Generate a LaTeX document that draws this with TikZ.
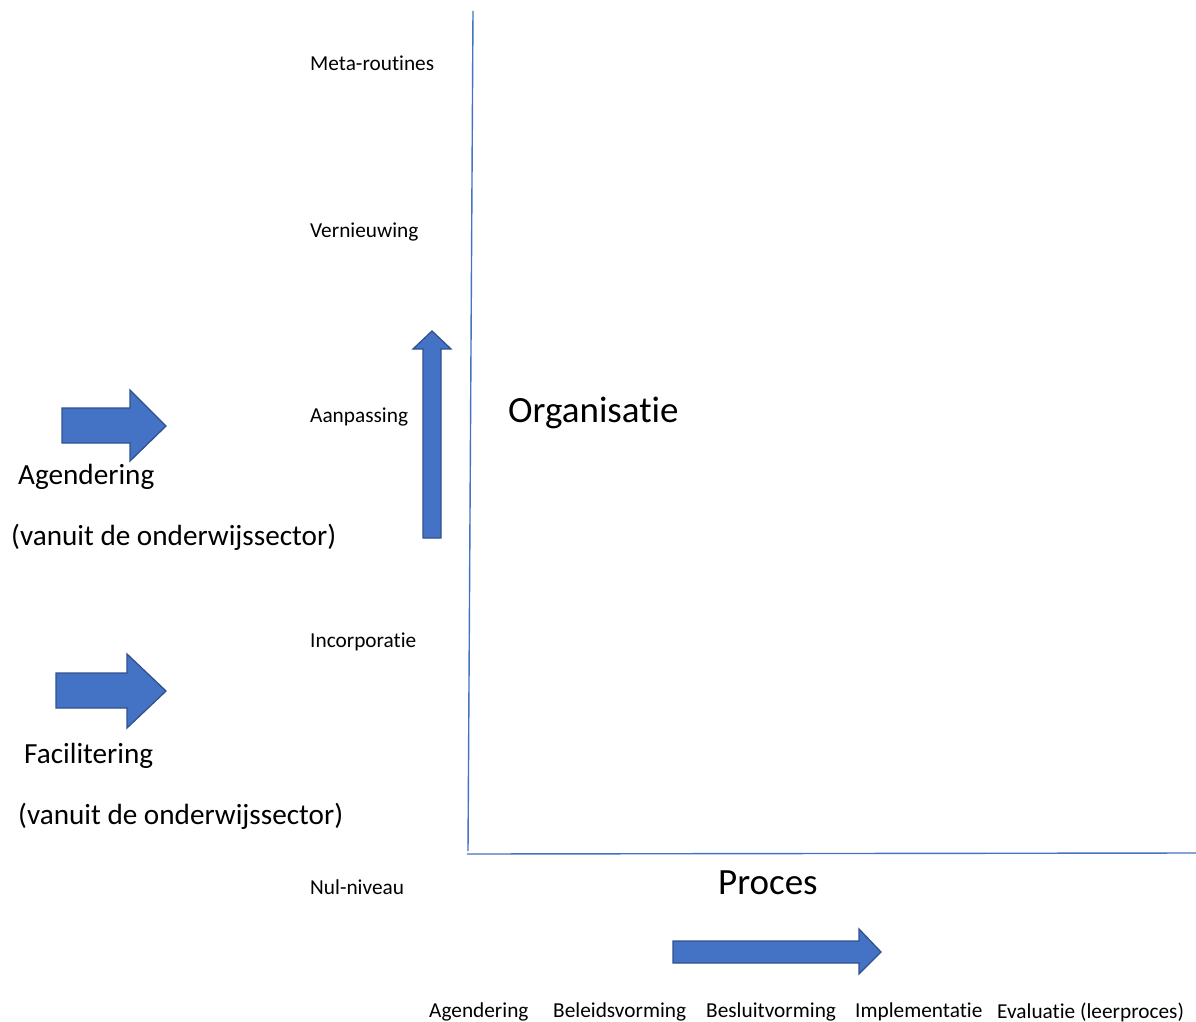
\documentclass[tikz,border=0pt]{standalone}
\usepackage{fontspec}
\setmainfont{Carlito}[Ligatures=NoCommon]
\definecolor{arrfill}{HTML}{4472C4}
\definecolor{arrline}{HTML}{2F528F}
\definecolor{axis}{HTML}{4472C4}
\begin{document}
\begin{tikzpicture}[x=1pt,y=-1pt,
  bigarrow/.style={fill=arrfill,draw=arrline,line width=1.3pt,line join=miter},
  axisline/.style={draw=axis,line width=1.4pt},
  small/.style={font=\fontsize{21.3}{25}\selectfont,inner sep=0pt,anchor=west},
  mid/.style={font=\fontsize{29.2}{34}\selectfont,inner sep=0pt,anchor=west},
  big/.style={font=\fontsize{37}{44}\selectfont,inner sep=0pt,anchor=west}]
\useasboundingbox (0,0) rectangle (1196,1022);
% axes
\coordinate (ytop) at (473,11);
\coordinate (ybot) at (468,851);
\coordinate (xleft) at (467,854);
\coordinate (xright) at (1196,853);
\draw[axisline] (ytop) -- (ybot);
\draw[axisline] (xleft) -- (xright);
% arrows
\draw[bigarrow] (62,408) -- (130,408) -- (130,390) -- (166,426) -- (130,461) -- (130,443) -- (62,443) -- cycle;
\draw[bigarrow] (56,673) -- (127,673) -- (127,654) -- (166,691) -- (127,728) -- (127,708) -- (56,708) -- cycle;
\draw[bigarrow] (423,538) -- (423,349) -- (413,349) -- (432,331) -- (451,349) -- (441,349) -- (441,538) -- cycle;
\draw[bigarrow] (673,941) -- (859,941) -- (859,929) -- (881,952) -- (859,974) -- (859,963) -- (673,963) -- cycle;
% level labels
\node[small] (meta) at (310,63) {Meta-routines};
\node[small] (vern) at (310,232) {Vernieuwing};
\node[small] (aanp) at (310,417) {Aanpassing};
\node[small] (inco) at (310,642) {Incorporatie};
\node[small] (nul) at (310,887) {Nul-niveau};
% big labels
\node[big] (org) at (508,413) {Organisatie};
\node[big] (proc) at (718,883) {Proces};
\node[mid] (agd) at (18,477) {Agendering};
\node[mid] (agd2) at (11,537) {(vanuit de onderwijssector)};
\node[mid] (fac) at (24,756) {Facilitering};
\node[mid] (fac2) at (18,816) {(vanuit de onderwijssector)};
% process labels
\node[small] (p1) at (429,1012) {Agendering};
\node[small] (p2) at (553,1012) {Beleidsvorming};
\node[small] (p3) at (706,1012) {Besluitvorming};
\node[small] (p4) at (855,1012) {Implementatie};
\node[small] (p5) at (997,1012) {Evaluatie (leerproces)};
\end{tikzpicture}
\end{document}
